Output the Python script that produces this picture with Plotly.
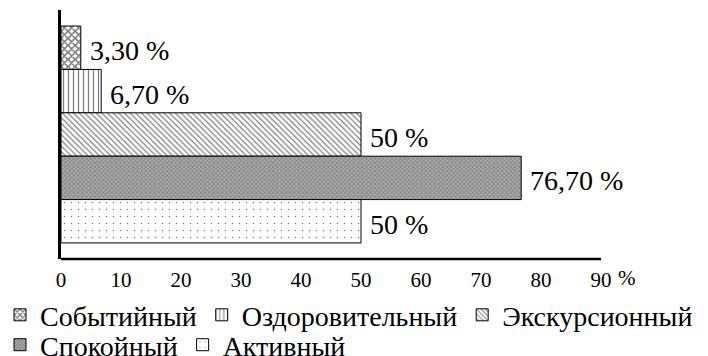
import plotly.graph_objects as go

categories = ["Событийный", "Оздоровительный", "Экскурсионный", "Спокойный", "Активный"]
values = [3.3, 6.7, 50, 76.7, 50]
value_labels = ["3,30 %", "6,70 %", "50 %", "76,70 %", "50 %"]
tick_values = [0, 10, 20, 30, 40, 50, 60, 70, 80, 90]
tick_labels = ["0", "10", "20", "30", "40", "50", "60", "70", "80", "90"]

patterns = [
    dict(shape="x", fgcolor="black", bgcolor="white", size=5, solidity=0.55),
    dict(shape="|", fgcolor="black", bgcolor="white", size=5, solidity=0.25),
    dict(shape="\\", fgcolor="black", bgcolor="white", size=4, solidity=0.3),
    dict(shape="x", fgcolor="#3a3a3a", bgcolor="#a8a8a8", size=3, solidity=0.35),
    dict(shape=".", fgcolor="black", bgcolor="white", size=7, solidity=0.04),
]
legend_ids = ["legend", "legend", "legend", "legend2", "legend2"]

FONT = "Liberation Serif"

fig = go.Figure()
for cat, val, pat, lg in zip(categories, values, patterns, legend_ids):
    fig.add_trace(go.Bar(
        y=[cat], x=[val], orientation="h", name=cat, width=1,
        marker=dict(color="white", pattern=pat, line=dict(color="black", width=1)),
        legend=lg, hoverinfo="skip",
    ))

annotations = []
for cat, val, lab in zip(categories, values, value_labels):
    annotations.append(dict(
        x=val, y=cat, xref="x", yref="y", text=lab, showarrow=False,
        xanchor="left", yanchor="middle", xshift=7, yshift=-3,
        font=dict(family=FONT, size=28, color="black"),
    ))
annotations.append(dict(
    x=94.3, y=0, xref="x", yref="paper", text="%", showarrow=False,
    xanchor="center", yanchor="middle", yshift=-19,
    font=dict(family=FONT, size=21, color="black"),
))

fig.add_shape(type="line", xref="x", yref="paper", x0=-0.3, x1=90, y0=0, y1=0,
              line=dict(color="black", width=2.5))

fig.update_layout(
    width=708, height=356,
    margin=dict(l=61, r=3, t=10, b=97, autoexpand=False),
    paper_bgcolor="white", plot_bgcolor="white",
    barmode="overlay",
    showlegend=True,
    font=dict(family=FONT, color="black"),
    legend=dict(orientation="h", x=-0.0947, xanchor="left", y=-0.125, yanchor="top",
                font=dict(family=FONT, size=28, color="black"),
                bgcolor="rgba(0,0,0,0)", traceorder="normal"),
    legend2=dict(orientation="h", x=-0.0947, xanchor="left", y=-0.245, yanchor="top",
                 font=dict(family=FONT, size=28, color="black"),
                 bgcolor="rgba(0,0,0,0)", traceorder="normal"),
    annotations=annotations,
    xaxis=dict(range=[0, 644 / 6], tickvals=tick_values, ticktext=tick_labels,
               showgrid=False, zeroline=False, showline=False,
               ticks="outside", ticklen=2, tickcolor="rgba(0,0,0,0)",
               tickfont=dict(family=FONT, size=21, color="black")),
    yaxis=dict(categoryorder="array", categoryarray=categories,
               range=[4.87, -0.87], showticklabels=False, showgrid=False,
               zeroline=False, showline=True, linecolor="black", linewidth=2.5,
               ticks=""),
)

fig.write_html("out.html")
